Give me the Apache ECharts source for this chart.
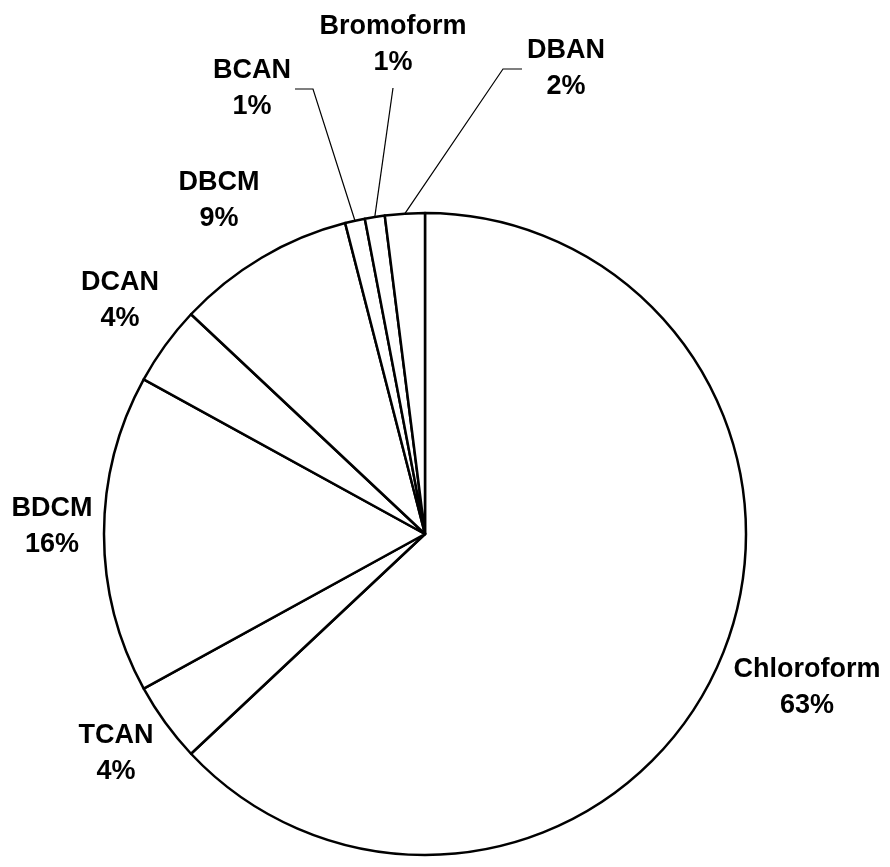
<!DOCTYPE html>
<html>
<head>
<meta charset="utf-8">
<script src="https://cdn.jsdelivr.net/npm/echarts@6/dist/echarts.min.js"></script>
<style>
  html, body { margin: 0; padding: 0; background: #ffffff; }
  #chart { width: 890px; height: 867px; }
</style>
</head>
<body>
<div id="chart"></div>
<script>
// Share of each disinfection by-product, in percent
const compounds = ['Chloroform', 'TCAN', 'BDCM', 'DCAN', 'DBCM', 'BCAN', 'Bromoform', 'DBAN'];
const shares = [63, 4, 16, 4, 9, 1, 1, 2];
// Compounds whose label is tied to its slice by a leader line
const leaderCompounds = ['BCAN', 'Bromoform', 'DBAN'];

// Label block centres (px)
const labelSpots = {
  Chloroform: [807, 688],
  TCAN: [116, 754],
  BDCM: [52, 527],
  DCAN: [120, 301],
  DBCM: [219, 201],
  BCAN: [252, 89],
  Bromoform: [393, 45],
  DBAN: [566, 69]
};
// Leader line bends after the slice anchor (px)
const leaderBends = {
  BCAN: [[313, 89], [295, 89]],
  Bromoform: [[393, 88]],
  DBAN: [[503, 69], [522, 69]]
};

const chart = echarts.init(document.getElementById('chart'), null, { renderer: 'canvas' });

const pieData = compounds.map((name, i) => ({
  name: name,
  value: shares[i],
  labelLine: { show: leaderCompounds.indexOf(name) >= 0 }
}));

chart.setOption({
  animation: false,
  backgroundColor: '#ffffff',
  series: [{
    type: 'pie',
    center: [425, 534],
    radius: 321,
    startAngle: 90,
    clockwise: true,
    avoidLabelOverlap: false,
    emphasis: { disabled: true },
    itemStyle: { color: '#ffffff', borderColor: '#000000', borderWidth: 2.5 },
    label: {
      show: true,
      position: 'outside',
      formatter: p => p.name + '\n' + Math.round(p.percent) + '%',
      fontFamily: '"Liberation Sans", Arial, Helvetica, sans-serif',
      fontWeight: 'bold',
      fontSize: 27,
      lineHeight: 36,
      color: '#000000',
      align: 'center'
    },
    labelLine: {
      show: true,
      length: 30,
      length2: 20,
      lineStyle: { color: '#000000', width: 1.2 }
    },
    labelLayout: function (p) {
      const name = compounds[p.dataIndex];
      const spot = labelSpots[name];
      const out = { x: spot[0], y: spot[1], align: 'center', verticalAlign: 'middle' };
      const bends = leaderBends[name];
      if (bends && p.labelLinePoints) {
        out.labelLinePoints = [p.labelLinePoints[0]].concat(bends);
      }
      return out;
    },
    data: pieData
  }]
});
</script>
</body>
</html>
